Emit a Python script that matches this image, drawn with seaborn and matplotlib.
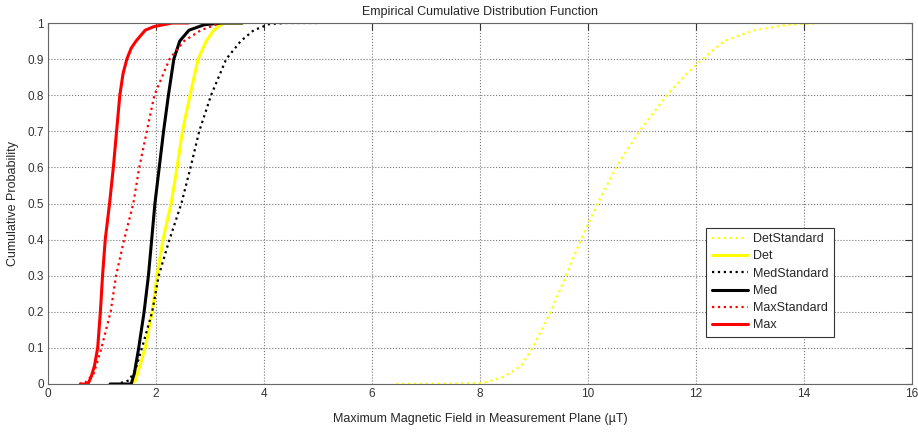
import matplotlib
matplotlib.use("Agg")
import matplotlib.pyplot as plt
import seaborn as sns
import pandas as pd

# ---- data (x in µT, cumulative probability) ----
det_std_x = [6.45, 8.00, 8.14, 8.44, 8.76, 8.97, 9.31, 9.59, 9.87, 10.18, 10.52, 10.95, 11.46, 11.80, 12.12, 12.52, 13.08, 13.70, 14.30, 14.70]
det_std_y = [0.0, 0.002, 0.006, 0.02, 0.05, 0.10, 0.20, 0.30, 0.40, 0.50, 0.60, 0.70, 0.80, 0.855, 0.90, 0.95, 0.98, 0.995, 1.0, 1.0]

det_x = [1.55, 1.62, 1.70, 1.80, 1.93, 2.02, 2.13, 2.28, 2.39, 2.49, 2.63, 2.78, 2.93, 3.07, 3.25, 3.60]
det_y = [0.0, 0.01, 0.05, 0.10, 0.20, 0.30, 0.40, 0.50, 0.60, 0.70, 0.80, 0.90, 0.95, 0.98, 1.0, 1.0]

med_std_x = [1.35, 1.50, 1.62, 1.74, 1.93, 2.05, 2.25, 2.47, 2.64, 2.80, 3.02, 3.30, 3.57, 3.81, 4.10, 4.40, 5.05]
med_std_y = [0.003, 0.01, 0.04, 0.10, 0.20, 0.30, 0.40, 0.50, 0.60, 0.70, 0.80, 0.90, 0.95, 0.98, 0.997, 1.0, 1.0]

med_x = [1.15, 1.54, 1.60, 1.68, 1.78, 1.86, 1.92, 1.98, 2.06, 2.14, 2.23, 2.33, 2.44, 2.61, 2.89, 3.20, 3.60]
med_y = [0.0, 0.0, 0.03, 0.10, 0.20, 0.30, 0.40, 0.50, 0.60, 0.70, 0.80, 0.90, 0.95, 0.98, 0.995, 1.0, 1.0]

max_std_x = [0.58, 0.70, 0.85, 0.99, 1.16, 1.26, 1.41, 1.58, 1.69, 1.83, 1.97, 2.25, 2.52, 2.83, 3.20]
max_std_y = [0.0, 0.005, 0.03, 0.10, 0.20, 0.30, 0.40, 0.50, 0.60, 0.70, 0.80, 0.90, 0.95, 0.98, 1.0]

max_x = [0.60, 0.74, 0.80, 0.86, 0.92, 0.97, 1.01, 1.06, 1.14, 1.21, 1.27, 1.33, 1.39, 1.46, 1.54, 1.63, 1.80, 1.96, 2.30, 2.60]
max_y = [0.0, 0.0, 0.02, 0.05, 0.10, 0.20, 0.30, 0.40, 0.50, 0.60, 0.70, 0.80, 0.86, 0.90, 0.93, 0.95, 0.98, 0.99, 1.0, 1.0]

series_names = ["DetStandard", "Det", "MedStandard", "Med", "MaxStandard", "Max"]
series_data = [(det_std_x, det_std_y), (det_x, det_y), (med_std_x, med_std_y),
               (med_x, med_y), (max_std_x, max_std_y), (max_x, max_y)]
series_colors = ["#ffff00", "#ffff00", "#000000", "#000000", "#ff0000", "#ff0000"]
series_dash = [":", "-", ":", "-", ":", "-"]

x_ticks = [0, 2, 4, 6, 8, 10, 12, 14, 16]
y_ticks = [0, 0.1, 0.2, 0.3, 0.4, 0.5, 0.6, 0.7, 0.8, 0.9, 1]
y_tick_labels = ["0", "0.1", "0.2", "0.3", "0.4", "0.5", "0.6", "0.7", "0.8", "0.9", "1"]

sns.set_theme(style="white")
plt.rcParams["font.family"] = ["Liberation Sans", "DejaVu Sans"]

fig = plt.figure(figsize=(9.18, 4.32), dpi=100)
ax = fig.add_axes([48 / 918, 1 - 384 / 432, 864 / 918, 361 / 432])

for name, (xs, ys), c, ls in zip(series_names, series_data, series_colors, series_dash):
    df = pd.DataFrame({"x": xs, "y": ys})
    lw = 2.2 if ls == "-" else 1.6
    sns.lineplot(data=df, x="x", y="y", ax=ax, color=c, linestyle=ls, linewidth=lw,
                 label=name, sort=False, estimator=None)

ax.set_xlim(0, 16)
ax.set_ylim(0, 1)
ax.set_xticks(x_ticks)
ax.set_xticklabels([str(t) for t in x_ticks])
ax.set_yticks(y_ticks)
ax.set_yticklabels(y_tick_labels)
ax.grid(True, linestyle=":", color="#777777", linewidth=0.8)
ax.tick_params(direction="in", top=True, right=True, length=5, width=0.8,
               labelsize=8.5, colors="#333333", pad=3)
for s in ax.spines.values():
    s.set_color("#666666")
    s.set_linewidth(0.8)

ax.set_title("Empirical Cumulative Distribution Function", fontsize=9, pad=6)
ax.set_xlabel("Maximum Magnetic Field in Measurement Plane (µT)", fontsize=9, labelpad=9)
ax.set_ylabel("Cumulative Probability", fontsize=9, labelpad=6)

leg = ax.legend(loc="lower left", bbox_to_anchor=(0.762, 0.13), fontsize=9,
                fancybox=False, framealpha=1, edgecolor="#333333", borderpad=0.45,
                labelspacing=0.42, handlelength=2.9, handletextpad=0.35, borderaxespad=0)
leg.get_frame().set_linewidth(0.8)

fig.savefig("out.png", dpi=100)
